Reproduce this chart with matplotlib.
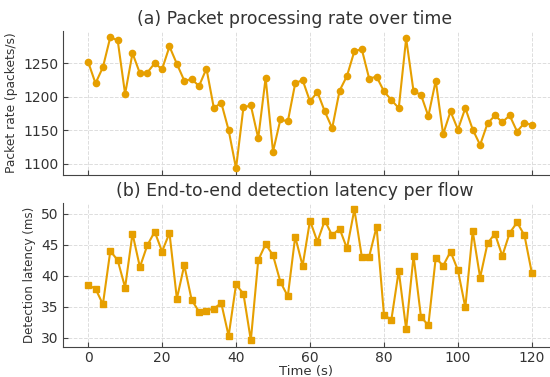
import matplotlib.pyplot as plt

# time axis, one sample every 2 s
time_s = list(range(0, 121, 2))

packet_rate = [
    1252, 1220, 1244, 1289, 1284, 1204, 1265, 1235, 1236, 1250,
    1241, 1275, 1249, 1224, 1226, 1216, 1242, 1183, 1191, 1150,
    1093, 1184, 1187, 1138, 1228, 1118, 1166, 1163, 1220, 1225,
    1193, 1207, 1178, 1153, 1209, 1231, 1268, 1271, 1227, 1230,
    1208, 1195, 1183, 1287, 1208, 1203, 1171, 1224, 1144, 1178,
    1151, 1183, 1151, 1128, 1160, 1172, 1162, 1172, 1148, 1161,
    1158,
]

latency_ms = [
    38.5, 37.9, 35.4, 44.0, 42.5, 38.1, 46.8, 41.4, 44.9, 47.1,
    43.9, 46.9, 36.3, 41.7, 36.1, 34.2, 34.4, 34.7, 35.6, 30.3,
    38.6, 37.1, 29.6, 42.5, 45.1, 43.3, 39.0, 36.7, 46.3, 41.6,
    48.9, 45.5, 48.9, 46.5, 47.6, 44.4, 50.7, 43.1, 43.1, 47.9,
    33.7, 32.9, 40.8, 31.4, 43.2, 33.4, 32.0, 42.9, 41.6, 43.9,
    40.9, 34.9, 47.2, 39.7, 45.2, 46.8, 43.2, 46.9, 48.6, 46.5,
    40.4,
]

color = '#E69F00'
text_color = '#333333'

fig = plt.figure(figsize=(5.5, 3.77), dpi=100)
ax1 = fig.add_axes([0.1145, 0.536, 0.8855, 0.383])
ax2 = fig.add_axes([0.1145, 0.08, 0.8855, 0.382], sharex=ax1)

ax1.plot(time_s, packet_rate, color=color, marker='o', markersize=4.5, linewidth=1.5)
ax2.plot(time_s, latency_ms, color=color, marker='s', markersize=4.5, linewidth=1.5)

ax1.set_title("(a) Packet processing rate over time", fontsize=12.4,
              color=text_color, pad=5, x=0.476)
ax2.set_title("(b) End-to-end detection latency per flow", fontsize=12.4,
              color=text_color, pad=5, x=0.476)
ax1.set_ylabel("Packet rate (packets/s)", fontsize=8.8, color=text_color)
ax2.set_ylabel("Detection latency (ms)", fontsize=8.6, color=text_color)
ax2.set_xlabel("Time (s)", fontsize=9.5, color=text_color, labelpad=0)

ax1.set_yticks([1100, 1150, 1200, 1250])
ax2.set_yticks([30, 35, 40, 45, 50])
ax2.set_xticks([0, 20, 40, 60, 80, 100, 120])
ax1.set_xlim(-6.8, 124.9)
ax1.tick_params(labelbottom=False)

for ax in (ax1, ax2):
    ax.grid(True, linestyle='--', linewidth=0.7, color='#dddddd')
    ax.set_axisbelow(True)
    for side in ('top', 'right'):
        ax.spines[side].set_visible(False)
    for side in ('left', 'bottom'):
        ax.spines[side].set_color('#444444')
    ax.tick_params(direction='in', labelsize=10, colors='#444444',
                   labelcolor=text_color, pad=3)

fig.savefig("out.png", dpi=100)
